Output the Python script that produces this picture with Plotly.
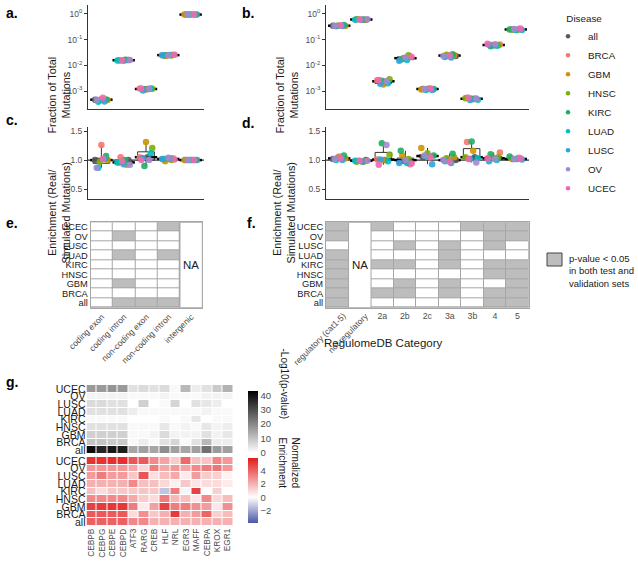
import numpy as np
import plotly.graph_objects as go

W, H = 638, 563
FONT = "Arial, Liberation Sans, Helvetica, sans-serif"
LINE = "#333333"
TICK = "#4d4d4d"

diseases = ["all", "BRCA", "GBM", "HNSC", "KIRC", "LUAD", "LUSC", "OV", "UCEC"]
disease_colors = ["#595959", "#F8766D", "#CD9600", "#7CAE00", "#1FAE66",
                  "#00BFC4", "#2FA3E0", "#A58AD0", "#EE6AAE"]

regions = ["coding exon", "coding intron", "non-coding exon", "non-coding intron", "intergenic"]
reg_cats = ["regulatory (cat1-5)", "not regulatory", "2a", "2b", "2c", "3a", "3b", "4", "5"]

log_ticks = [1, 0.1, 0.01, 0.001]
log_tick_text = ["10<sup>0</sup>", "10<sup>-1</sup>", "10<sup>-2</sup>", "10<sup>-3</sup>"]
enrich_ticks = [0.5, 1.0, 1.5]

# fraction of total mutations, one row per disease (same order as `diseases`)
frac_region = [
    [4.6e-4, 1.60e-2, 1.20e-3, 2.50e-2, 0.95],
    [4.8e-4, 1.55e-2, 1.25e-3, 2.60e-2, 0.95],
    [4.5e-4, 1.62e-2, 1.15e-3, 2.30e-2, 0.96],
    [4.4e-4, 1.58e-2, 1.22e-3, 2.40e-2, 0.95],
    [4.7e-4, 1.65e-2, 1.18e-3, 2.50e-2, 0.95],
    [3.8e-4, 1.55e-2, 1.25e-3, 2.55e-2, 0.95],
    [3.9e-4, 1.50e-2, 1.05e-3, 2.50e-2, 0.95],
    [4.6e-4, 1.60e-2, 1.20e-3, 2.45e-2, 0.95],
    [5.5e-4, 1.58e-2, 1.25e-3, 2.60e-2, 0.96],
]
frac_reg = [
    [0.35, 0.60, 2.3e-3, 1.9e-2, 1.20e-3, 2.3e-2, 5.0e-4, 6.0e-2, 0.25],
    [0.36, 0.62, 2.6e-3, 2.2e-2, 1.25e-3, 2.4e-2, 5.5e-4, 6.5e-2, 0.26],
    [0.34, 0.60, 1.8e-3, 1.8e-2, 1.15e-3, 2.5e-2, 4.8e-4, 6.2e-2, 0.25],
    [0.35, 0.63, 2.9e-3, 2.5e-2, 1.20e-3, 2.6e-2, 5.2e-4, 6.0e-2, 0.24],
    [0.37, 0.61, 2.5e-3, 1.7e-2, 1.20e-3, 2.7e-2, 5.0e-4, 5.5e-2, 0.25],
    [0.33, 0.60, 2.0e-3, 1.6e-2, 1.10e-3, 2.1e-2, 4.6e-4, 5.8e-2, 0.24],
    [0.34, 0.59, 1.9e-3, 1.5e-2, 1.10e-3, 2.0e-2, 4.5e-4, 6.3e-2, 0.24],
    [0.35, 0.62, 2.4e-3, 2.0e-2, 1.20e-3, 2.3e-2, 5.1e-4, 6.6e-2, 0.26],
    [0.36, 0.61, 2.7e-3, 2.1e-2, 1.25e-3, 2.4e-2, 5.5e-4, 7.0e-2, 0.27],
]

# enrichment (real / simulated mutations)
enrich_region = [
    [1.00, 1.00, 1.05, 1.02, 1.00],
    [1.26, 1.05, 1.05, 1.03, 1.00],
    [1.00, 0.92, 1.31, 0.98, 1.00],
    [0.97, 0.96, 1.21, 1.00, 1.00],
    [1.07, 1.00, 0.90, 1.02, 1.00],
    [0.87, 0.96, 1.12, 1.03, 1.00],
    [1.02, 0.93, 1.03, 1.02, 1.00],
    [0.87, 0.92, 1.00, 1.04, 1.00],
    [1.02, 0.98, 1.00, 1.01, 1.00],
]
enrich_reg = [
    [1.02, 1.00, 1.00, 1.00, 1.05, 1.00, 1.05, 1.03, 1.02],
    [1.06, 0.99, 1.01, 0.93, 1.05, 1.02, 1.31, 1.13, 1.04],
    [1.03, 0.98, 1.00, 1.08, 1.21, 1.05, 1.16, 1.05, 1.03],
    [1.04, 0.97, 1.09, 1.02, 1.12, 1.03, 1.05, 1.05, 1.02],
    [1.08, 0.97, 1.29, 1.16, 1.08, 1.11, 1.32, 1.10, 1.06],
    [1.00, 0.99, 0.98, 0.95, 1.07, 0.98, 1.03, 1.00, 1.02],
    [1.00, 0.98, 1.01, 0.95, 0.93, 0.95, 1.02, 0.98, 1.01],
    [1.02, 0.99, 1.26, 1.00, 1.08, 1.00, 0.96, 1.02, 1.02],
    [1.03, 0.99, 0.92, 0.94, 1.05, 0.97, 1.02, 1.03, 1.03],
]

# significance grids, listed from the top row (UCEC) to the bottom row (all); None = NA
rows_top_down = diseases[::-1]
sig_region = [
    [0, 0, 0, 1, None],
    [0, 1, 0, 0, None],
    [0, 0, 0, 0, None],
    [0, 1, 0, 1, None],
    [0, 0, 0, 0, None],
    [0, 0, 0, 0, None],
    [0, 1, 0, 0, None],
    [0, 0, 0, 0, None],
    [0, 1, 1, 1, None],
]
sig_reg = [
    [1, None, 1, 0, 0, 0, 1, 1, 1],
    [1, None, 0, 0, 0, 0, 0, 1, 1],
    [0, None, 0, 1, 0, 1, 0, 1, 0],
    [1, None, 0, 0, 0, 1, 0, 0, 0],
    [1, None, 1, 1, 0, 1, 0, 1, 1],
    [1, None, 0, 0, 0, 0, 0, 1, 1],
    [1, None, 0, 1, 0, 1, 0, 0, 1],
    [1, None, 1, 1, 0, 1, 0, 1, 1],
    [1, None, 0, 0, 0, 0, 0, 1, 1],
]

tfs = ["CEBPB", "CEBPG", "CEBPE", "CEBPD", "ATF3", "RARG", "CREB", "HLF",
       "NRL", "EGR3", "MAFF", "CEBPA", "KROX", "EGR1"]
neglog_p = [
    [17, 17, 18, 17, 5, 6, 5, 6, 1, 12, 3, 5, 9, 13],
    [2, 2, 2, 2, 1, 1, 1, 2, 1, 1, 1, 2, 2, 2],
    [6, 6, 5, 5, 0, 8, 0, 1, 7, 0, 5, 4, 3, 0],
    [5, 5, 5, 5, 3, 1, 1, 1, 1, 1, 1, 2, 1, 1],
    [1, 1, 1, 1, 0, 0, 0, 1, 0, 1, 4, 0, 1, 1],
    [5, 5, 5, 5, 1, 1, 1, 4, 1, 2, 1, 4, 2, 3],
    [8, 8, 8, 8, 1, 1, 2, 6, 2, 2, 2, 5, 2, 4],
    [10, 10, 9, 9, 1, 3, 1, 5, 7, 1, 5, 12, 3, 3],
    [41, 37, 39, 38, 15, 16, 15, 19, 16, 15, 16, 24, 17, 16],
]
norm_enrich = [
    [5.2, 5.2, 5.3, 5.3, 4.3, 4.2, 3.0, 2.3, 1.3, 3.8, 1.6, 1.5, 3.1, 2.6],
    [2.6, 2.6, 2.6, 2.6, 2.2, 1.0, 3.3, 2.2, 2.6, 2.3, 3.0, 3.3, 3.5, 2.6],
    [2.5, 3.3, 2.5, 2.5, 1.4, 4.3, 0.8, 1.7, 2.2, 0.5, 2.5, 1.3, 1.2, 0.3],
    [2.0, 2.0, 2.0, 2.0, 3.0, 1.6, 1.6, 1.0, 0.4, 1.4, 0.6, 0.9, 0.9, 0.5],
    [1.6, 0.9, 1.4, 1.4, 1.4, 1.5, 1.4, -1.3, 3.3, -0.2, 4.8, 0.0, 1.2, 0.0],
    [3.0, 3.0, 3.0, 3.0, 2.2, 1.3, 0.9, 3.3, 1.8, 1.6, 0.6, 3.0, 1.0, 1.7],
    [4.8, 5.0, 5.1, 5.1, 3.3, 0.5, 2.4, 4.8, 3.3, 3.3, 2.8, 2.5, 0.6, 2.8],
    [4.2, 4.2, 4.2, 4.2, 0.9, 2.8, 1.4, 2.0, 5.0, 2.0, 2.5, 3.9, 1.2, 1.7],
    [4.0, 4.0, 4.0, 4.0, 3.0, 3.0, 2.0, 2.0, 2.0, 2.0, 2.0, 2.0, 2.0, 2.0],
]


def xdom(a, b):
    return [a / W, b / W]


def ydom(top, bottom):
    return [1 - bottom / H, 1 - top / H]


def px(x):
    return x / W


def py(y):
    return 1 - y / H


def axis_ids(n):
    return ("x", "y") if n == 1 else (f"x{n}", f"y{n}")


def jitter(i, c):
    return ((4 * i + 7 * c) % 9 - 4) * 0.07


fig = go.Figure()


def dot_panel(n, values, cats):
    xa, ya = axis_ids(n)
    bx, by = [], []
    for row in values:
        for c, v in enumerate(row):
            bx.append(c)
            by.append(v)
    fig.add_trace(go.Box(
        x=bx, y=by, xaxis=xa, yaxis=ya, boxpoints=False, width=0.75,
        whiskerwidth=0, fillcolor="rgba(0,0,0,0)",
        line=dict(color=LINE, width=1), showlegend=False, hoverinfo="skip",
    ))
    med = np.median(np.array(values), axis=0)
    fig.add_trace(go.Scatter(
        x=list(range(len(cats))), y=med, xaxis=xa, yaxis=ya, mode="markers",
        marker=dict(symbol="line-ew", size=16, line=dict(color="black", width=2.5)),
        showlegend=False, hoverinfo="skip",
    ))
    for i, d in enumerate(diseases):
        fig.add_trace(go.Scatter(
            x=[c + jitter(i, c) for c in range(len(cats))], y=values[i],
            xaxis=xa, yaxis=ya, mode="markers", name=d, legendgroup=d,
            showlegend=False, text=cats,
            marker=dict(color=disease_colors[i], size=6.5, opacity=0.9),
        ))


dot_panel(1, frac_region, regions)
dot_panel(2, frac_reg, reg_cats)
dot_panel(3, enrich_region, regions)
dot_panel(4, enrich_reg, reg_cats)

# legend entries (small keys like the original)
for i, d in enumerate(diseases):
    fig.add_trace(go.Scatter(
        x=[None], y=[None], mode="markers", name=d, legendgroup=d,
        marker=dict(color=disease_colors[i], size=4.5), showlegend=True,
    ))

# significance heatmaps
grey_scale = [[0, "#ffffff"], [1, "#bdbdbd"]]
fig.add_trace(go.Heatmap(
    z=sig_region, x=regions, y=rows_top_down, xaxis="x5", yaxis="y5",
    colorscale=grey_scale, zmin=0, zmax=1, showscale=False, xgap=1, ygap=1,
    hoverinfo="skip",
))
fig.add_trace(go.Heatmap(
    z=sig_reg, x=reg_cats, y=rows_top_down, xaxis="x6", yaxis="y6",
    colorscale=grey_scale, zmin=0, zmax=1, showscale=False, xgap=1, ygap=1,
    hoverinfo="skip",
))

# TF motif heatmaps
fig.add_trace(go.Heatmap(
    z=neglog_p, x=tfs, y=rows_top_down, xaxis="x7", yaxis="y7",
    colorscale=[[0, "#ffffff"], [1, "#000000"]], zmin=0, zmax=43,
    xgap=1, ygap=1, hoverinfo="skip",
    colorbar=dict(
        x=px(248), xanchor="left", xpad=0, ypad=0, thickness=10,
        len=62, lenmode="pixels", y=py(422), yanchor="middle",
        tickvals=[0, 10, 20, 30, 40], ticks="", outlinewidth=0,
        tickfont=dict(size=9.5, color=TICK, family=FONT),
    ),
))
fig.add_trace(go.Heatmap(
    z=norm_enrich, x=tfs, y=rows_top_down, xaxis="x8", yaxis="y8",
    colorscale=[[0, "#4a56a8"], [3.8 / 9.6, "#ffffff"], [1, "#e31a1c"]],
    zmin=-3.8, zmax=5.8, xgap=1, ygap=1, hoverinfo="skip",
    colorbar=dict(
        x=px(248), xanchor="left", xpad=0, ypad=0, thickness=10,
        len=65, lenmode="pixels", y=py(490.5), yanchor="middle",
        tickvals=[-2, 0, 2, 4], ticktext=["\u22122", "0", "2", "4"], ticks="",
        outlinewidth=0, tickfont=dict(size=9.5, color=TICK, family=FONT),
    ),
))

layout = dict(
    width=W, height=H, margin=dict(l=0, r=0, t=0, b=0, autoexpand=False),
    paper_bgcolor="white", plot_bgcolor="white",
    font=dict(family=FONT, color="#1a1a1a"),
    showlegend=True,
    legend=dict(
        x=px(548), y=py(9), xanchor="left", yanchor="top",
        title=dict(text="\u00a0" * 6 + "Disease", font=dict(size=9.8, color="#1a1a1a")),
        font=dict(size=9.8, color="#1a1a1a"), itemsizing="trace",
        bgcolor="rgba(0,0,0,0)", tracegroupgap=0,
    ),
)

dot_boxes = {
    1: (xdom(88, 204), ydom(5, 109), len(regions), True),
    2: (xdom(326, 529), ydom(5, 109), len(reg_cats), True),
    3: (xdom(88, 204), ydom(127, 199), len(regions), False),
    4: (xdom(326, 529), ydom(127, 199), len(reg_cats), False),
}
for n, (xd, yd, ncat, log) in dot_boxes.items():
    xa, ya = axis_ids(n)
    xk = "xaxis" if n == 1 else f"xaxis{n}"
    yk = "yaxis" if n == 1 else f"yaxis{n}"
    layout[xk] = dict(
        domain=xd, anchor=ya, range=[-0.6, ncat - 0.4], showline=True,
        linecolor=LINE, linewidth=1, ticks="", showticklabels=False,
        showgrid=False, zeroline=False, automargin=False,
    )
    yax = dict(
        domain=yd, anchor=xa, showline=True, linecolor=LINE, linewidth=1,
        ticks="outside", ticklen=3, tickcolor=LINE, showgrid=False,
        zeroline=False, tickfont=dict(size=8.5, color=TICK), automargin=False,
    )
    if log:
        yax.update(type="log", range=[-3.7, 0.35], tickvals=log_ticks, ticktext=log_tick_text)
    else:
        yax.update(range=[0.33, 1.57], tickvals=enrich_ticks, tickformat=".1f")
    layout[yk] = yax

heat_boxes = {
    5: (xdom(90.7, 202.3), ydom(222.3, 307.7), regions),
    6: (xdom(326, 528.7), ydom(222.3, 307.7), reg_cats),
    7: (xdom(86.5, 233), ydom(385, 454), tfs),
    8: (xdom(86.5, 233), ydom(457, 526), tfs),
}
nrow = len(rows_top_down)
for n, (xd, yd, cols) in heat_boxes.items():
    layout[f"xaxis{n}"] = dict(
        domain=xd, anchor=f"y{n}", ticks="", showgrid=False, zeroline=False,
        range=[-0.5, len(cols) - 0.5], tickmode="array", tickvals=cols,
        tickfont=dict(size=8.5, color=TICK), automargin=False,
    )
    layout[f"yaxis{n}"] = dict(
        domain=yd, anchor=f"x{n}", ticks="", showgrid=False, zeroline=False,
        range=[nrow - 0.5, -0.5], tickmode="array", tickvals=rows_top_down,
        tickfont=dict(size=9.3, color="#1a1a1a"), automargin=False,
    )

layout["xaxis5"].update(tickangle=-45, showline=True, mirror=True, linecolor="#a6a6a6")
layout["yaxis5"].update(showline=True, mirror=True, linecolor="#a6a6a6")
layout["xaxis6"].update(tickangle=0, tickvals=reg_cats[2:], showline=True, mirror=True,
                        linecolor="#a6a6a6", tickfont=dict(size=8.8, color=TICK))
layout["yaxis6"].update(showline=True, mirror=True, linecolor="#a6a6a6")
layout["xaxis7"].update(showticklabels=False)
layout["yaxis7"].update(tickfont=dict(size=10.5, color="#1a1a1a"))
layout["xaxis8"].update(tickangle=-90, tickfont=dict(size=8.3, color=TICK))
layout["yaxis8"].update(tickfont=dict(size=10.5, color="#1a1a1a"))

fig.update_layout(**layout)

shapes = []
# reference line at enrichment = 1
for n in (3, 4):
    xa, ya = axis_ids(n)
    shapes.append(dict(type="line", xref=f"{xa} domain", yref=ya, x0=0, x1=1, y0=1, y1=1,
                       line=dict(color="black", width=1), layer="below"))
# grid line colour behind the significance cells
for n in (5, 6):
    shapes.append(dict(type="rect", xref=f"x{n} domain", yref=f"y{n} domain",
                       x0=0, x1=1, y0=0, y1=1, fillcolor="#a6a6a6",
                       line=dict(width=0), layer="below"))
# NA columns
na_cols = [(5, regions.index("intergenic")), (6, reg_cats.index("not regulatory"))]
for n, ci in na_cols:
    shapes.append(dict(type="rect", xref=f"x{n}", yref=f"y{n}", x0=ci - 0.5, x1=ci + 0.5,
                       y0=-0.5, y1=nrow - 0.5, fillcolor="white",
                       line=dict(color="#a6a6a6", width=1)))
# legend key for panel f
shapes.append(dict(type="rect", xref="paper", yref="paper", x0=px(547), x1=px(562),
                   y0=py(266), y1=py(253), fillcolor="#bdbdbd",
                   line=dict(color="#444444", width=1)))

annotations = []
for n, ci in na_cols:
    annotations.append(dict(text="NA", xref=f"x{n}", yref=f"y{n}", x=ci,
                            y=(nrow - 1) / 2, showarrow=False,
                            font=dict(size=11.5, color="#1a1a1a")))

panel_letters = [("a.", 4, 13), ("b.", 240, 13), ("c.", 4, 120), ("d.", 240, 123),
                 ("e.", 4, 223), ("f.", 245, 223), ("g.", 4, 382)]
for txt, x, y in panel_letters:
    annotations.append(dict(text=f"<b>{txt}</b>", x=px(x), y=py(y), xref="paper", yref="paper",
                            xanchor="left", yanchor="middle", showarrow=False,
                            font=dict(size=14, color="black")))

y_titles = [("Fraction of Total<br>Mutations", 43, 55), ("Fraction of Total<br>Mutations", 286, 55),
            ("Enrichment (Real/<br>Simulated Mutations)", 43, 161),
            ("Enrichment (Real/<br>Simulated Mutations)", 283, 161)]
for txt, x, y in y_titles:
    annotations.append(dict(text=txt, x=px(x), y=py(y), xref="paper", yref="paper",
                            textangle=-90, showarrow=False,
                            font=dict(size=10.8, color="#1a1a1a")))

# rotated labels for the first two RegulomeDB columns
for ci in range(2):
    annotations.append(dict(text=reg_cats[ci], xref="x6", yref="paper", x=ci + 0.6,
                            y=py(308), xanchor="right", yanchor="top", textangle=-45,
                            showarrow=False, font=dict(size=8.5, color=TICK)))

annotations.append(dict(text="RegulomeDB Category", x=px(445), y=py(343), xref="paper",
                        yref="paper", showarrow=False, font=dict(size=11.5, color="#1a1a1a")))
annotations.append(dict(text="p-value < 0.05<br>in both test and<br>validation sets",
                        x=px(567), y=py(251), xref="paper", yref="paper", xanchor="left",
                        yanchor="top", align="left", showarrow=False,
                        font=dict(size=9.5, color="#1a1a1a")))
annotations.append(dict(text="-Log10(p-value)", x=px(284), y=py(421), xref="paper",
                        yref="paper", textangle=90, showarrow=False,
                        font=dict(size=10, color="#1a1a1a")))
annotations.append(dict(text="Normalized<br>Enrichment", x=px(289), y=py(490), xref="paper",
                        yref="paper", textangle=90, showarrow=False,
                        font=dict(size=10, color="#1a1a1a")))

fig.update_layout(shapes=shapes, annotations=annotations)
# the page's default body margin would shift the whole figure by 8px
fig.write_html("out.html", config={"displayModeBar": False},
               post_script="document.body.style.margin = '0';")
